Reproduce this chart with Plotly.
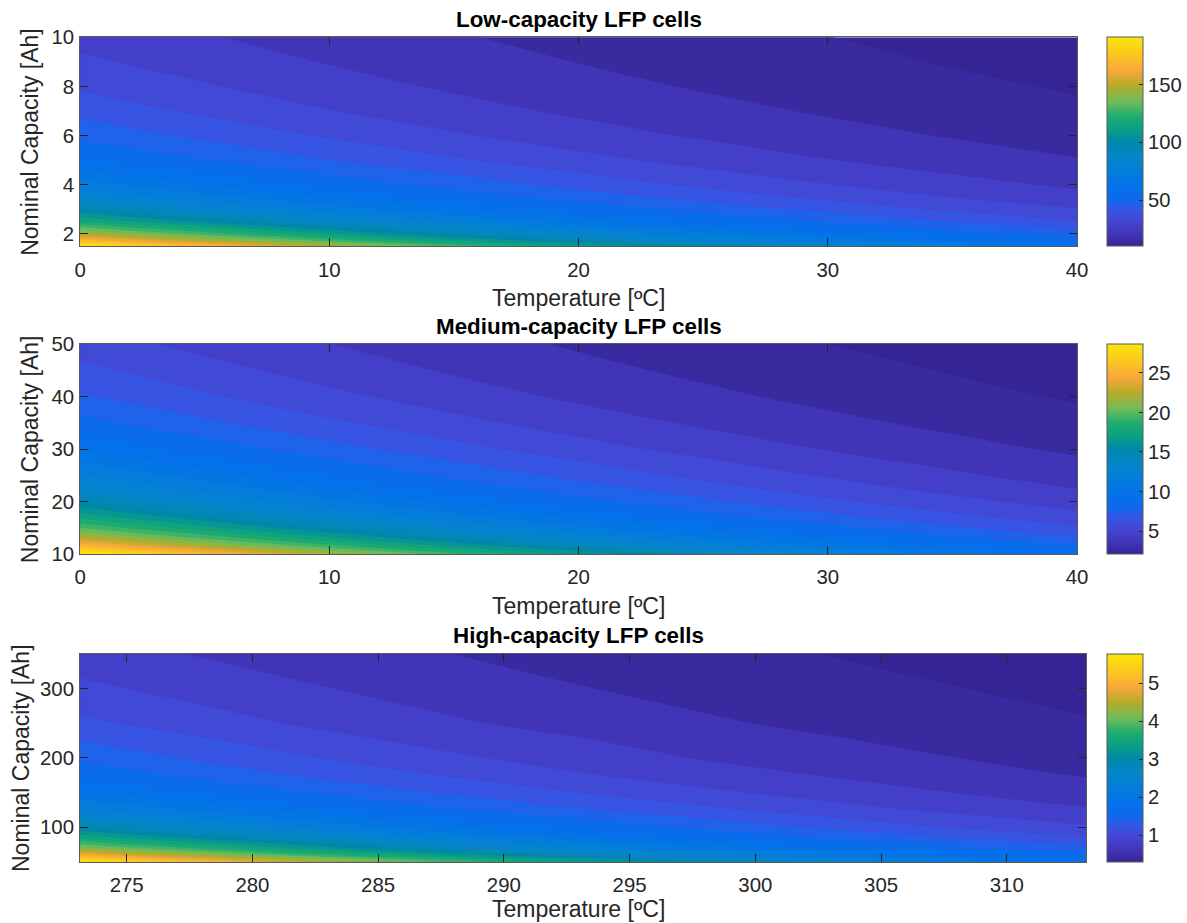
import plotly.graph_objects as go

# ---------------- data ----------------
temp_c = [0, 5, 10, 15, 20, 25, 30, 35, 40]
temp_k = [273.15, 278.15, 283.15, 288.15, 293.15, 298.15, 303.15, 308.15, 313.15]

cap_low = [1.5, 1.75, 2, 2.5, 3, 3.5, 4, 5, 6, 7, 8, 9, 10]
z_low = [
    [190.8, 166.8, 145.6, 127.3, 111.2, 97.1, 84.9, 74.2, 64.9],
    [164.6, 143.9, 125.6, 109.8, 96.0, 83.8, 73.2, 64.0, 56.0],
    [144.8, 126.6, 110.5, 96.6, 84.4, 73.7, 64.4, 56.3, 49.2],
    [117.0, 102.3, 89.3, 78.0, 68.2, 59.6, 52.1, 45.5, 39.8],
    [98.2, 85.8, 74.9, 65.5, 57.3, 50.0, 43.7, 38.2, 33.4],
    [84.7, 74.0, 64.6, 56.5, 49.4, 43.1, 37.7, 32.9, 28.8],
    [74.6, 65.2, 56.9, 49.8, 43.5, 38.0, 33.2, 29.0, 25.4],
    [60.2, 52.6, 45.9, 40.2, 35.1, 30.6, 26.8, 23.4, 20.5],
    [50.6, 44.2, 38.6, 33.8, 29.5, 25.8, 22.5, 19.7, 17.2],
    [43.6, 38.1, 33.3, 29.1, 25.4, 22.2, 19.4, 17.0, 14.8],
    [38.4, 33.6, 29.3, 25.6, 22.4, 19.5, 17.1, 14.9, 13.1],
    [34.3, 30.0, 26.2, 22.9, 20.0, 17.5, 15.3, 13.3, 11.7],
    [31.0, 27.1, 23.7, 20.7, 18.1, 15.8, 13.8, 12.1, 10.5],
]

cap_med = [10, 11.5, 13, 15, 17.5, 20, 22.5, 25, 30, 35, 40, 45, 50]
z_med = [
    [28.65, 24.96, 21.74, 18.94, 16.50, 14.37, 12.52, 10.90, 9.50],
    [25.14, 21.90, 19.08, 16.62, 14.48, 12.61, 10.98, 9.57, 8.33],
    [22.41, 19.52, 17.00, 14.81, 12.90, 11.24, 9.79, 8.53, 7.43],
    [19.60, 17.07, 14.87, 12.96, 11.29, 9.83, 8.56, 7.46, 6.50],
    [16.97, 14.78, 12.88, 11.22, 9.77, 8.51, 7.41, 6.46, 5.63],
    [14.98, 13.05, 11.37, 9.90, 8.63, 7.51, 6.54, 5.70, 4.97],
    [13.41, 11.68, 10.18, 8.86, 7.72, 6.73, 5.86, 5.10, 4.45],
    [12.15, 10.58, 9.22, 8.03, 7.00, 6.09, 5.31, 4.62, 4.03],
    [10.10, 8.80, 7.67, 6.68, 5.82, 5.07, 4.42, 3.85, 3.35],
    [8.60, 7.49, 6.53, 5.69, 4.95, 4.32, 3.76, 3.28, 2.86],
    [7.45, 6.49, 5.66, 4.93, 4.29, 3.74, 3.26, 2.84, 2.48],
    [6.60, 5.75, 5.01, 4.36, 3.80, 3.31, 2.88, 2.51, 2.29],
    [5.90, 5.14, 4.48, 3.90, 3.40, 2.96, 2.58, 2.25, 2.10],
]

cap_high = [50, 60, 70, 85, 100, 125, 150, 175, 200, 250, 300, 350]
z_high = [
    [5.77, 5.04, 4.40, 3.85, 3.36, 2.94, 2.57, 2.24, 1.96],
    [4.84, 4.23, 3.69, 3.23, 2.82, 2.46, 2.15, 1.88, 1.65],
    [4.17, 3.64, 3.18, 2.78, 2.43, 2.12, 1.86, 1.62, 1.42],
    [3.46, 3.02, 2.64, 2.31, 2.02, 1.76, 1.54, 1.35, 1.18],
    [2.96, 2.59, 2.26, 1.97, 1.73, 1.51, 1.32, 1.15, 1.01],
    [2.39, 2.09, 1.82, 1.59, 1.39, 1.22, 1.06, 0.93, 0.81],
    [2.00, 1.75, 1.53, 1.33, 1.17, 1.02, 0.89, 0.78, 0.68],
    [1.72, 1.50, 1.31, 1.15, 1.00, 0.88, 0.77, 0.67, 0.58],
    [1.52, 1.33, 1.16, 1.01, 0.89, 0.77, 0.68, 0.59, 0.52],
    [1.22, 1.07, 0.93, 0.81, 0.71, 0.62, 0.54, 0.47, 0.41],
    [1.03, 0.90, 0.79, 0.69, 0.60, 0.52, 0.46, 0.40, 0.35],
    [0.88, 0.77, 0.67, 0.59, 0.52, 0.45, 0.39, 0.34, 0.30],
]

titles = ["Low-capacity LFP cells", "Medium-capacity LFP cells", "High-capacity LFP cells"]
x_label = "Temperature [ºC]"
y_label = "Nominal Capacity [Ah]"

xticks_low = [0, 10, 20, 30, 40]
xticks_high = [275, 280, 285, 290, 295, 300, 305, 310]
yticks_low = [2, 4, 6, 8, 10]
yticks_med = [10, 20, 30, 40, 50]
yticks_high = [100, 200, 300]
cbticks_low = [50, 100, 150]
cbticks_med = [5, 10, 15, 20, 25]
cbticks_high = [1, 2, 3, 4, 5]

# ---------------- style ----------------
# observed mapping between figure pixels and photographed pixels
SX, OX = 0.985, 6.0
SY, OY = 0.977, 10.0
W, H = 1200, 938
parula = [
    [0.00, "rgb(53,37,148)"],
    [0.06, "rgb(66,54,186)"],
    [0.12, "rgb(68,70,212)"],
    [0.18, "rgb(52,88,230)"],
    [0.22, "rgb(15,106,236)"],
    [0.28, "rgb(4,112,234)"],
    [0.35, "rgb(3,124,220)"],
    [0.43, "rgb(5,134,200)"],
    [0.50, "rgb(0,136,168)"],
    [0.56, "rgb(10,160,132)"],
    [0.62, "rgb(30,172,112)"],
    [0.69, "rgb(110,188,90)"],
    [0.77, "rgb(185,170,40)"],
    [0.84, "rgb(248,168,60)"],
    [0.92, "rgb(252,200,30)"],
    [1.00, "rgb(250,230,10)"],
]
FONT = "Liberation Sans, Arial, sans-serif"
TXT = "#262626"


def py(px):
    return 1 - (px / SY - OY) / H


def px_x(px):
    return (px / SX - OX) / W


panels = [
    dict(x=temp_c, y=cap_low, z=z_low, xr=[0, 40], yr=[1.5, 10], xt=xticks_low, yt=yticks_low,
         cb=cbticks_low, top=36, bot=245, left=80, right=1076, nlev=28, xlab=297, ylabx=30),
    dict(x=temp_c, y=cap_med, z=z_med, xr=[0, 40], yr=[10, 50], xt=xticks_low, yt=yticks_med,
         cb=cbticks_med, top=343, bot=553, left=80, right=1076, nlev=28, xlab=605, ylabx=30),
    dict(x=temp_k, y=cap_high, z=z_high, xr=[273.15, 313.15], yr=[50, 350], xt=xticks_high, yt=yticks_high,
         cb=cbticks_high, top=653, bot=861, left=80, right=1085, nlev=28, xlab=908, ylabx=21),
]

fig = go.Figure()
annotations = []
layout = {}
for i, p in enumerate(panels):
    n = "" if i == 0 else str(i + 1)
    xa, ya = "x" + n, "y" + n
    zflat = [v for row in p["z"] for v in row]
    zmin, zmax = min(zflat), max(zflat)
    step = (zmax - zmin) / p["nlev"]
    fig.add_trace(go.Contour(
        x=p["x"], y=p["y"], z=p["z"], xaxis=xa, yaxis=ya,
        colorscale=parula, zmin=zmin, zmax=zmax, showscale=False,
        contours=dict(coloring="fill", start=zmin + step * 0.5, end=zmax, size=step, showlines=False),
        line=dict(width=0), hoverinfo="skip",
    ))
    # continuous colour bar
    fig.add_trace(go.Scatter(
        x=[p["x"][0]], y=[p["y"][0]], xaxis=xa, yaxis=ya, mode="markers", showlegend=False,
        hoverinfo="skip",
        marker=dict(size=1, opacity=0, color=[zmin], cmin=zmin, cmax=zmax, colorscale=parula,
                    showscale=True,
                    colorbar=dict(x=px_x(1106), xanchor="left", y=py((p["top"] + p["bot"]) / 2),
                                  yanchor="middle", len=(p["bot"] - p["top"]) / SY / H, lenmode="fraction",
                                  thickness=35.5, thicknessmode="pixels", xpad=0, ypad=0,
                                  outlinewidth=1, outlinecolor="#5a5a5a",
                                  tickvals=p["cb"], ticks="inside", ticklen=4, tickcolor=TXT,
                                  tickprefix="\u2009",
                                  tickfont=dict(family=FONT, size=20.2, color=TXT))),
    ))
    axcommon = dict(showgrid=False, zeroline=False, showline=True, linecolor="#5a5a5a", linewidth=1,
                    mirror="ticks", ticks="inside", ticklen=8, tickwidth=1.3, tickcolor=TXT,
                    tickfont=dict(family=FONT, size=20.4, color=TXT))
    layout["xaxis" + n] = dict(axcommon, domain=[px_x(p["left"]), px_x(p["right"])], range=p["xr"],
                               tickvals=p["xt"], anchor=ya, ticklabelstandoff=5)
    layout["yaxis" + n] = dict(axcommon, domain=[py(p["bot"]), py(p["top"])], range=p["yr"],
                               tickvals=p["yt"], anchor=xa, ticklabelstandoff=1)
    annotations.append(dict(text="<b>%s</b>" % titles[i], xref="paper", yref="paper",
                            x=px_x((p["left"] + 1076) / 2), y=py(p["top"] - 18), showarrow=False,
                            font=dict(family=FONT, size=22.4, color="black"), xanchor="center", yanchor="middle"))
    annotations.append(dict(text=x_label, xref="paper", yref="paper",
                            x=px_x((p["left"] + 1076) / 2), y=py(p["xlab"]), showarrow=False,
                            font=dict(family=FONT, size=23, color=TXT), xanchor="center", yanchor="middle"))
    annotations.append(dict(text=y_label, xref="paper", yref="paper", textangle=-90,
                            x=px_x(p["ylabx"]), y=py((p["top"] + p["bot"]) / 2), showarrow=False,
                            font=dict(family=FONT, size=23, color=TXT), xanchor="center", yanchor="middle"))

fig.update_layout(
    width=W, height=H, margin=dict(l=0, r=0, t=0, b=0),
    paper_bgcolor="white", plot_bgcolor="white", showlegend=False,
    annotations=annotations, **layout,
)
fig.write_html("out.html")
